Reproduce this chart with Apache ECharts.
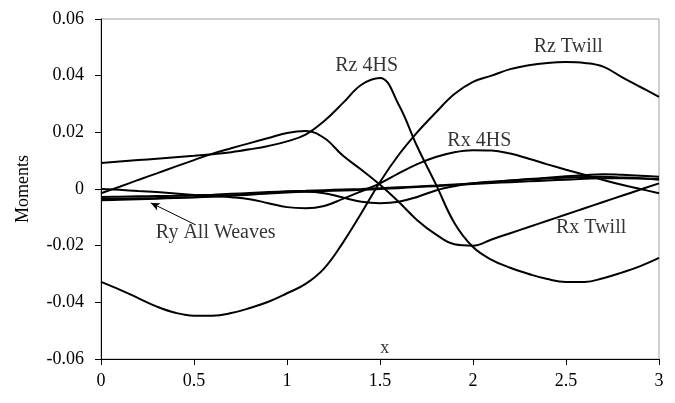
<!DOCTYPE html>
<html>
<head>
<meta charset="utf-8">
<script src="https://cdn.jsdelivr.net/npm/echarts@6/dist/echarts.min.js"></script>
<style>html,body{margin:0;padding:0;background:#fff;}#c{width:675px;height:403px;}</style>
</head>
<body>
<div id="c"></div>
<script>
var xs = [0,0.1,0.2,0.3,0.4,0.5,0.6,0.7,0.8,0.9,1.0,1.1,1.2,1.3,1.4,1.5,1.6,1.7,1.8,1.9,2.0,2.1,2.2,2.3,2.4,2.5,2.6,2.7,2.8,2.9,3.0];
var rz4hs = [0.0092,0.0097,0.0102,0.0107,0.0112,0.0117,0.0123,0.0130,0.0140,0.0152,0.0168,0.0192,0.0240,0.0303,0.0368,0.0392,0.0298,0.0150,0.0017,-0.0120,-0.0205,-0.0250,-0.0278,-0.0300,-0.0318,-0.0328,-0.0328,-0.0315,-0.0295,-0.0272,-0.0243];
var rzTwill = [-0.0328,-0.0355,-0.0385,-0.0415,-0.0437,-0.0447,-0.0447,-0.0438,-0.0420,-0.0398,-0.0368,-0.0335,-0.0280,-0.0190,-0.0085,0.0025,0.0120,0.0200,0.0270,0.0335,0.0378,0.0400,0.0423,0.0437,0.0445,0.0448,0.0445,0.0432,0.0395,0.0360,0.0325];
var rx4hs = [0.0,-0.0003,-0.0007,-0.0011,-0.0016,-0.0021,-0.0025,-0.0029,-0.0036,-0.0050,-0.0064,-0.0068,-0.0060,-0.0035,-0.0008,0.0020,0.0055,0.0088,0.0113,0.0130,0.0137,0.0136,0.0125,0.0107,0.0087,0.0068,0.0050,0.0032,0.0015,0.0000,-0.0015];
var rxTwill = [-0.0015,0.0008,0.0032,0.0055,0.0079,0.0102,0.0125,0.0144,0.0162,0.0180,0.0198,0.0205,0.0180,0.0118,0.0068,0.0015,-0.0045,-0.0110,-0.0160,-0.0195,-0.0200,-0.0178,-0.0156,-0.0134,-0.0112,-0.0090,-0.0068,-0.0046,-0.0024,-0.0002,0.0020];
var ryA = [-0.0028,-0.0027,-0.0026,-0.0025,-0.0024,-0.0022,-0.0020,-0.0017,-0.0014,-0.0011,-0.0008,-0.0006,-0.0004,-0.0002,0.0000,0.0003,0.0006,0.0009,0.0012,0.0016,0.0020,0.0025,0.0030,0.0035,0.0040,0.0045,0.0049,0.0052,0.0050,0.0047,0.0043];
var ryB = [-0.0040,-0.0038,-0.0036,-0.0034,-0.0032,-0.0030,-0.0027,-0.0024,-0.0020,-0.0016,-0.0012,-0.0009,-0.0007,-0.0005,-0.0003,0.0000,0.0003,0.0007,0.0010,0.0014,0.0018,0.0021,0.0024,0.0027,0.0030,0.0033,0.0036,0.0038,0.0038,0.0037,0.0035];
var ryC = [-0.0035,-0.0034,-0.0033,-0.0032,-0.0030,-0.0028,-0.0025,-0.0022,-0.0018,-0.0014,-0.0010,-0.0010,-0.0015,-0.0030,-0.0045,-0.0050,-0.0045,-0.0028,-0.0005,0.0010,0.0020,0.0026,0.0030,0.0034,0.0037,0.0040,0.0042,0.0043,0.0041,0.0038,0.0033];
var xTicks = [0,0.5,1,1.5,2,2.5,3];
var yTicks = [-0.06,-0.04,-0.02,0,0.02,0.04,0.06];
var annotations = [
  {name:'Rz 4HS', x:1.428, y:0.0434},
  {name:'Rz Twill', x:2.512, y:0.0501},
  {name:'Rx 4HS', x:2.034, y:0.0169},
  {name:'Rx Twill', x:2.635, y:-0.0138},
  {name:'Ry All Weaves', x:0.617, y:-0.0155}
];
var xTitle = {name:'x', x:1.525, y:-0.0563};
var arrowFrom = [0.51, -0.0127];
var arrowTo = [0.268, -0.0049];

var FONT = 'Liberation Serif';
function pairs(arr){ return xs.map(function(x,i){ return [x, arr[i]]; }); }
function lineSeries(name, arr){
  return {name:name, type:'line', data:pairs(arr), showSymbol:false, symbol:'none', smooth:0.4,
    lineStyle:{color:'#000', width:2}, z:3};
}
var chart = echarts.init(document.getElementById('c'), null, {renderer:'canvas'});
chart.setOption({
  animation:false,
  backgroundColor:'#fff',
  grid:{left:101, right:16, top:19, bottom:44, show:true, borderColor:'#a0a0a0', borderWidth:1,
    backgroundColor:'transparent', containLabel:false, outerBoundsMode:'none'},
  xAxis:{type:'value', min:xTicks[0], max:xTicks[xTicks.length-1], interval:0.5,
    axisLine:{show:true, onZero:false, lineStyle:{color:'#000', width:1}},
    axisTick:{show:true, inside:false, length:6, lineStyle:{color:'#000'}},
    axisLabel:{fontFamily:FONT, fontSize:18, color:'#000', margin:13},
    splitLine:{show:false}},
  yAxis:{type:'value', min:yTicks[0], max:yTicks[yTicks.length-1], interval:0.02,
    name:'Moments', nameLocation:'middle', nameGap:69,
    nameTextStyle:{fontFamily:FONT, fontSize:18, color:'#000'},
    axisLine:{show:true, onZero:false, lineStyle:{color:'#000', width:1}},
    axisTick:{show:true, inside:false, length:6, lineStyle:{color:'#000'}},
    axisLabel:{fontFamily:FONT, fontSize:18, color:'#000', margin:17,
      formatter:function(v){ return Math.abs(v)<1e-9 ? '0' : v.toFixed(2); }},
    splitLine:{show:false}},
  series:[
    lineSeries('Rz 4HS', rz4hs),
    lineSeries('Rz Twill', rzTwill),
    lineSeries('Rx 4HS', rx4hs),
    lineSeries('Rx Twill', rxTwill),
    lineSeries('Ry A', ryA),
    lineSeries('Ry B', ryB),
    lineSeries('Ry C', ryC),
    {name:'annotations', type:'scatter', symbolSize:0, z:5,
      data:annotations.map(function(a){ return {name:a.name, value:[a.x, a.y]}; }),
      label:{show:true, position:'inside', formatter:'{b}', fontFamily:FONT, fontSize:20, color:'#000'},
      markLine:{silent:true, symbol:['none','arrow'], symbolSize:[6,9], label:{show:false},
        lineStyle:{color:'#000', width:1, type:'solid'},
        data:[[{coord:arrowFrom},{coord:arrowTo}]]}
    },
    {name:'xTitle', type:'scatter', symbolSize:0, z:5,
      data:[{name:xTitle.name, value:[xTitle.x, xTitle.y]}],
      label:{show:true, position:'inside', formatter:'{b}', fontFamily:FONT, fontSize:18, color:'#000'}
    }
  ]
});
</script>
</body>
</html>
